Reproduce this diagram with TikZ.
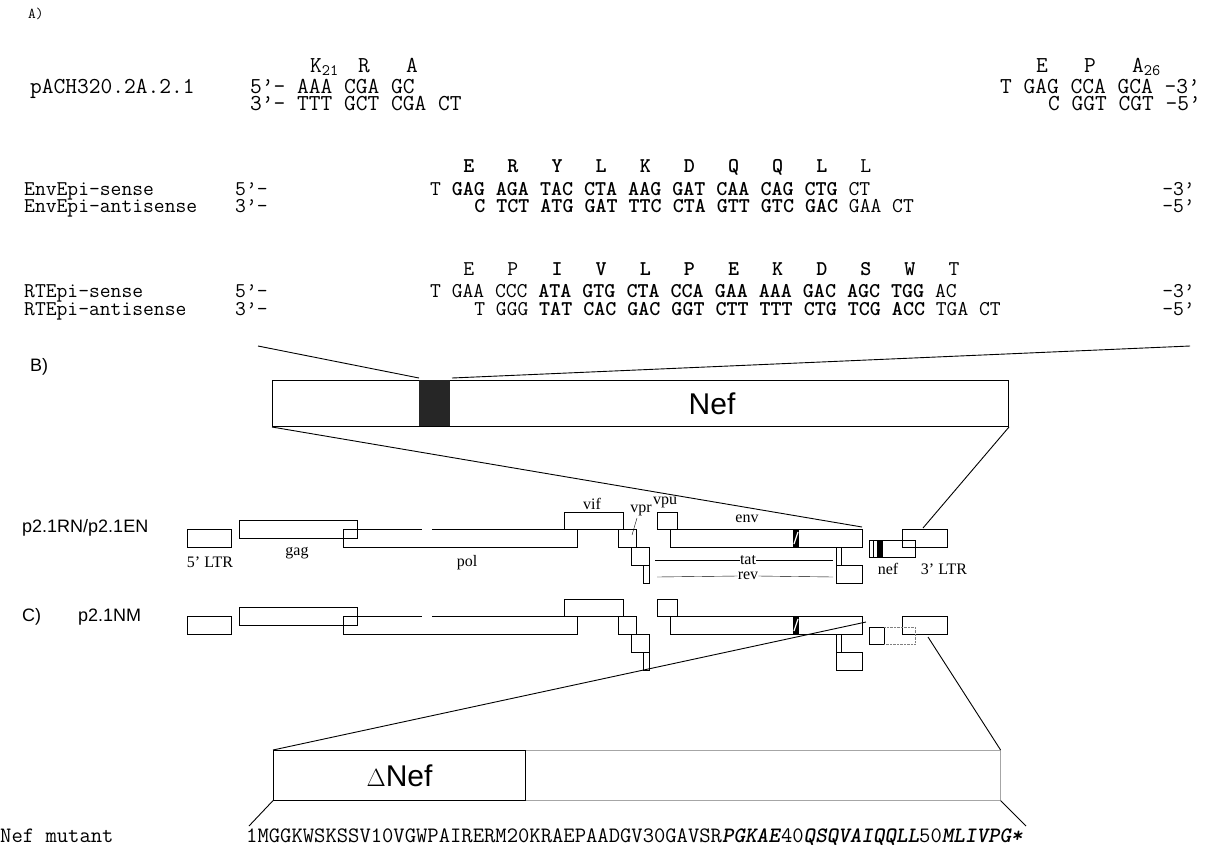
\documentclass[tikz,border=0pt]{standalone}
\usepackage{fontspec}
\setmainfont{Liberation Serif}
\setsansfont{Liberation Sans}
\usetikzlibrary{calc}
\frenchspacing
\newcommand{\seqfont}{\ttfamily\fontsize{22.8}{26}\selectfont}
\newcommand{\oligofont}{\ttfamily\fontsize{21}{24}\selectfont}
\newcommand{\panelfont}{\sffamily\fontsize{18}{21}\selectfont}
\newcommand{\genefont}{\rmfamily\fontsize{16}{18}\selectfont}
\tikzset{
  seqtext/.style={anchor=base west, inner sep=0pt, font=\seqfont,
    text height=10pt, text depth=2pt},
  oligo/.style={seqtext, font=\oligofont},
  oligoend/.style={oligo, anchor=base east},
  panel/.style={anchor=base west, inner sep=0pt, font=\panelfont},
  gene/.style={draw, line width=0.8pt},
  genelabel/.style={inner sep=0pt, font=\genefont},
  zoomline/.style={line width=0.9pt},
  protbox/.style={draw, line width=1pt, anchor=north west, inner sep=0pt}
}
% boxes shared by both proviruses
\newcommand{\provirus}{%
  \draw[gene] (187,529) rectangle (231,547); % 5' LTR
  \draw[gene] (239,520) rectangle (357,538); % gag
  \draw[gene] (343,529) rectangle (577,547); % pol
  \draw[white, line width=2pt] (422,529) -- (432,529);
  \draw[gene] (564,512) rectangle (623,529); % vif
  \draw[gene] (618,529) rectangle (636,547); % vpr
  \draw[gene] (631,547) rectangle (649,565); % tat exon 1
  \draw[gene] (643,565) rectangle (649,583); % rev exon 1
  \draw[gene] (657,512) rectangle (677,529); % vpu
  \draw[gene] (670,529) rectangle (862,547); % env
  \fill (793,529) rectangle (799,547);
  \draw[white, line width=1.2pt] (794,544) -- (798,532);
  \draw[gene] (836,547) rectangle (841,565); % tat exon 2
  \draw[gene] (836,565) rectangle (862,583); % rev exon 2
  \draw[gene] (902,529) rectangle (947,547); % 3' LTR
}
\begin{document}
\begin{tikzpicture}[x=1pt, y=-1pt]
  \useasboundingbox (0,0) rectangle (1208,855);

  % A) primers and vector flanks
  \node[seqtext, font=\ttfamily\fontsize{15}{18}\selectfont] (panA) at (28,18) {A)};

  \node[seqtext] (pach) at (30,93) {pACH320.2A.2.1};
  \node[seqtext] (pachL) at (250,93) {5’- AAA CGA GC};
  \node[seqtext] (pachLc) at (250,110) {3’- TTT GCT CGA CT};
  \node[seqtext] (aaK) at (310,72) {K\textsubscript{21}};
  \node[seqtext] (aaR) at (358,72) {R};
  \node[seqtext] (aaA) at (406,72) {A};
  \node[seqtext] (pachR) at (1000,93) {T GAG CCA GCA -3’};
  \node[seqtext] (pachRc) at (1048,110) {C GGT CGT -5’};
  \node[seqtext] (aaE) at (1036,72) {E};
  \node[seqtext] (aaP) at (1084,72) {P};
  \node[seqtext] (aaA2) at (1132,72) {A\textsubscript{26}};

  % EnvEpi oligos
  \node[oligo] (envS) at (24,195) {EnvEpi-sense};
  \node[oligo] (envA) at (24,212) {EnvEpi-antisense};
  \node[oligo] at (235,195) {5’-};
  \node[oligo] at (235,212) {3’-};
  \foreach \aa [count=\i] in {E,R,Y,L,K,D,Q,Q,L}
    \node[oligo, font=\oligofont\bfseries] at ({430+(4*\i-1)*11.03},172) {\aa};
  \node[oligo] at ({430+39*11.03},172) {L};
  \node[oligo] (envSseq) at (430,195) {T \textbf{GAG AGA TAC CTA AAG GAT CAA CAG CTG} CT};
  \node[oligo] (envAseq) at ({430+4*11.03},212) {\textbf{C TCT ATG GAT TTC CTA GTT GTC GAC} GAA CT};
  \node[oligoend] at (1195,195) {-3’};
  \node[oligoend] at (1195,212) {-5’};

  % RTEpi oligos
  \node[oligo] (rtS) at (24,297) {RTEpi-sense};
  \node[oligo] (rtA) at (24,315) {RTEpi-antisense};
  \node[oligo] at (235,297) {5’-};
  \node[oligo] at (235,315) {3’-};
  \node[oligo] at ({430+3*11.03},275) {E};
  \node[oligo] at ({430+7*11.03},275) {P};
  \foreach \aa [count=\i] in {I,V,L,P,E,K,D,S,W}
    \node[oligo, font=\oligofont\bfseries] at ({430+(4*\i+7)*11.03},275) {\aa};
  \node[oligo] at ({430+47*11.03},275) {T};
  \node[oligo] (rtSseq) at (430,297) {T GAA CCC \textbf{ATA GTG CTA CCA GAA AAA GAC AGC TGG} AC};
  \node[oligo] (rtAseq) at ({430+4*11.03},315) {T GGG \textbf{TAT CAC GAC GGT CTT TTT CTG TCG ACC} TGA CT};
  \node[oligoend] at (1195,297) {-3’};
  \node[oligoend] at (1195,315) {-5’};

  % B) Nef with epitope insert
  \node[panel] (panB) at (30,371) {B)};
  \node[protbox, minimum width=736pt, minimum height=46pt] (nefbox) at (272,380) {};
  \fill[black!85] (419,380) rectangle (450,426);
  \coordinate (epiL) at (419,378);
  \coordinate (epiR) at (452,378);
  \coordinate (seqL) at (258,346);
  \coordinate (seqR) at (1190,346);
  \draw[zoomline] (seqL) -- (epiL);
  \draw[zoomline] (epiR) -- (seqR);
  \node[font=\sffamily\fontsize{30}{34}\selectfont] (neflabel) at (712,404) {Nef};

  % provirus p2.1RN/p2.1EN
  \node[panel] (p21RN) at (22,532) {p2.1RN/p2.1EN};
  \provirus
  \draw[gene] (869,540) rectangle (915,557); % nef
  \draw (873,540) -- (873,557);
  \fill (877,540) rectangle (883,557);
  \node[genelabel] at (210,562) {5' LTR};
  \node[genelabel] at (297,553) {gag};
  \node[genelabel] at (467,563) {pol};
  \node[genelabel] at (592,504) {vif};
  \node[genelabel] at (641,510) {vpr};
  \draw (637,518) -- (632,535);
  \node[genelabel] at (665,502) {vpu};
  \node[genelabel] at (747,519) {env};
  \node[genelabel] (tat) at (748,560) {tat};
  \node[genelabel] (rev) at (748,576) {rev};
  \draw (655,560) -- (tat.west) (tat.east) -- (833,560);
  \draw (657,577) -- (rev.west) (rev.east) -- (833,577);
  \node[genelabel] at (888,569) {nef};
  \node[genelabel] at (944,569) {3' LTR};
  \coordinate (envend) at (862,527);
  \coordinate (ltrtop) at (923,528);
  \draw[zoomline] (nefbox.south west) -- (envend);
  \draw[zoomline] (nefbox.south east) -- (ltrtop);

  % C) provirus p2.1NM
  \node[panel] (panC) at (22,621) {C)};
  \node[panel] (p21NM) at (78,621) {p2.1NM};
  \begin{scope}[yshift=-87pt]
    \provirus
    \draw[gene] (869,540) rectangle (884,557); % truncated nef
    \draw[gray, densely dotted] (884,540) -- (915,540) -- (915,557) -- (884,557);
  \end{scope}

  % Delta Nef
  \node[protbox, draw=gray!70, line width=0.6pt, minimum width=727pt, minimum height=50pt] (dnefbox) at (273,750) {};
  \node[protbox, minimum width=252pt, minimum height=50pt] (dnefsolid) at (273,750) {};
  \node[font=\sffamily\fontsize{30}{34}\selectfont] (dneflabel) at (dnefsolid.center) {$\Delta$Nef};
  \coordinate (nmL) at (866,622);
  \coordinate (nmR) at (928,637);
  \draw[zoomline] (nmL) -- (dnefbox.north west);
  \draw[zoomline] (nmR) -- (dnefbox.north east);

  % mutant sequence
  \node[seqtext, font=\ttfamily\fontsize{22}{26}\selectfont] (mutlabel) at (0,842) {Nef mutant};
  \node[seqtext, font=\ttfamily\fontsize{22}{26}\selectfont] (mutseq) at (246,842) {1MGGKWSKSSV10VGWPAIRERM20KRAEPAADGV30GAVSR\textbf{\textsl{PGKAE}}40\textbf{\textsl{QSQVAIQQLL}}50\textbf{\textsl{MLIVPG*}}};
  \coordinate (mutstart) at (249,826);
  \coordinate (mutend) at (1026,826);
  \draw[zoomline] (dnefbox.south west) -- (mutstart);
  \draw[zoomline] (dnefbox.south east) -- (mutend);
\end{tikzpicture}
\end{document}
